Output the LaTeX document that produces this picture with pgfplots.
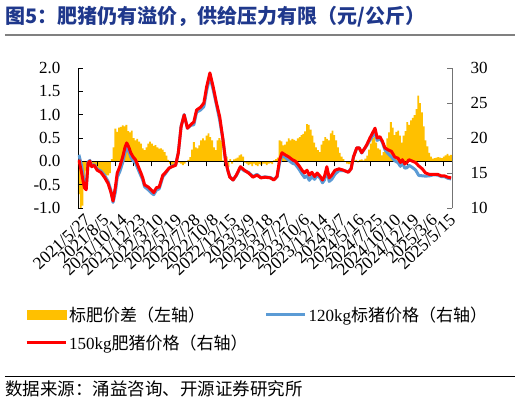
\documentclass[border=0pt]{standalone}
\usepackage{fontspec}
\setmainfont{Liberation Serif}
\newfontfamily\cjk{Noto Sans CJK SC}
\usepackage{pgfplots}
\pgfplotsset{compat=1.18}
\definecolor{barorange}{HTML}{FFC000}
\definecolor{lineblue}{HTML}{5B9BD5}
\definecolor{linered}{HTML}{FF0000}
\definecolor{titleblue}{RGB}{31,56,140}
\begin{document}
\begin{tikzpicture}
\useasboundingbox (-78pt,-194pt) rectangle (442pt,208pt);
\fill[white] (-78pt,-194pt) rectangle (442pt,208pt);
\node[anchor=west, inner sep=0pt, text=titleblue, font=\cjk\bfseries\fontsize{20}{22}\selectfont] at (-73pt,191.5pt) {图5：肥猪仍有溢价，供给压力有限（元/公斤）};
\draw[line width=1.6pt, black!50] (-73pt,173pt) -- (437pt,173pt);
\draw[line width=0.6pt, black] (-73pt,-168pt) -- (437pt,-168pt);
\node[anchor=west, inner sep=0pt, font=\cjk\fontsize{17.5}{20}\selectfont] at (-73pt,-181pt) {数据来源：涌益咨询、开源证券研究所};

\begin{axis}[
  at={(0pt,0pt)}, anchor=south west, scale only axis,
  width=374pt, height=140pt,
  xmin=-0.5, xmax=204.5, ymin=-1, ymax=2,
  axis on top,
  axis y line*=left, axis x line*=middle,
  ytick={-1,-0.5,0,0.5,1,1.5,2},
  yticklabels={-1.0,-0.5,0.0,0.5,1.0,1.5,2.0},
  xtick={0,10,20,30,40,50,60,70,80,90,100,110,120,130,140,150,160,170,180,190,200},
  xticklabels={},
  tick align=inside, major tick length=5pt,
  tick style={black, line width=0.9pt},
  axis line style={black, line width=0.9pt},
  yticklabel style={font=\fontsize{17}{17}\selectfont, xshift=-14pt},
  /pgf/number format/assume math mode=true,
  ybar, bar width=1, bar shift=0pt,
]
\addplot[fill=barorange, draw=none] coordinates {
(0,-0.7)(1,-1.0)(2,-0.95)(3,-0.4)(4,-0.2)(5,-0.15)(6,-0.12)(7,-0.08)(8,-0.1)(9,-0.12)
(10,-0.15)(11,-0.18)(12,-0.2)(13,-0.25)(14,-0.27)(15,-0.3)(16,-0.3)(17,-0.25)(18,0.05)(19,0.3)
(20,0.7)(21,0.63)(22,0.72)(23,0.74)(24,0.77)(25,0.75)(26,0.78)(27,0.65)(28,0.62)(29,0.66)
(30,0.5)(31,0.45)(32,0.48)(33,0.42)(34,0.38)(35,0.28)(36,0.24)(37,0.3)(38,0.38)(39,0.42)
(40,0.38)(41,0.33)(42,0.35)(43,0.3)(44,0.27)(45,0.28)(46,0.25)(47,0.2)(48,0.12)(49,0.03)
(50,-0.05)(51,-0.1)(52,-0.08)(53,-0.02)(54,0.02)(55,-0.03)(56,-0.05)(57,-0.08)(58,-0.05)(59,0.0)
(60,0.03)(61,0.09)(62,0.25)(63,0.41)(64,0.3)(65,0.28)(66,0.34)(67,0.45)(68,0.49)(69,0.45)
(70,0.55)(71,0.6)(72,0.52)(73,0.45)(74,0.3)(75,0.24)(76,0.45)(77,0.5)(78,0.45)(79,0.02)
(80,-0.1)(81,0.1)(82,-0.12)(83,0.05)(84,-0.05)(85,0.04)(86,0.06)(87,0.08)(88,0.13)(89,0.15)
(90,0.1)(91,-0.03)(92,-0.05)(93,-0.08)(94,-0.06)(95,-0.1)(96,-0.05)(97,-0.08)(98,-0.1)(99,-0.06)
(100,-0.08)(101,-0.05)(102,-0.05)(103,-0.08)(104,-0.05)(105,-0.04)(106,-0.06)(107,0.02)(108,0.05)(109,0.08)
(110,0.45)(111,0.43)(112,0.34)(113,0.36)(114,0.42)(115,0.49)(116,0.45)(117,0.48)(118,0.46)(119,0.44)
(120,0.49)(121,0.52)(122,0.56)(123,0.59)(124,0.64)(125,0.8)(126,0.78)(127,0.68)(128,0.55)(129,0.4)
(130,0.3)(131,0.24)(132,0.2)(133,0.36)(134,0.44)(135,0.52)(136,0.48)(137,0.45)(138,0.6)(139,0.66)
(140,0.56)(141,0.45)(142,0.3)(143,0.18)(144,0.1)(145,0.05)(146,0.0)(147,-0.05)(148,-0.06)(149,-0.05)
(150,-0.04)(151,0.02)(152,0.03)(153,-0.02)(154,0.03)(155,0.04)(156,0.02)(157,0.06)(158,0.12)(159,0.25)
(160,0.38)(161,0.5)(162,0.52)(163,0.4)(164,0.28)(165,0.25)(166,0.13)(167,0.2)(168,0.3)(169,0.49)
(170,0.62)(171,0.84)(172,0.72)(173,0.56)(174,0.63)(175,0.66)(176,0.55)(177,0.4)(178,0.55)(179,0.65)
(180,0.84)(181,0.78)(182,0.88)(183,0.93)(184,0.99)(185,1.12)(186,1.41)(187,1.25)(188,1.05)(189,0.75)
(190,0.45)(191,0.32)(192,0.18)(193,0.1)(194,0.06)(195,0.07)(196,0.08)(197,0.09)(198,0.08)(199,0.07)
(200,0.1)(201,0.13)(202,0.16)(203,0.12)(204,0.14)
};
\end{axis}

\begin{axis}[
  at={(0pt,0pt)}, anchor=south west, scale only axis,
  width=374pt, height=140pt,
  xmin=-0.5, xmax=204.5, ymin=10, ymax=30,
  axis y line*=right, axis x line*=bottom,
  x axis line style={draw=none},
  y axis line style={black!55, line width=0.9pt},
  xtick={0,10,20,30,40,50,60,70,80,90,100,110,120,130,140,150,160,170,180,190,200},
  xticklabels={2021/5/27,2021/8/5,2021/10/14,2021/12/23,2022/3/10,2022/5/19,2022/7/28,2022/10/8,2022/12/15,2023/3/9,2023/5/18,2023/7/27,2023/10/6,2023/12/14,2024/3/7,2024/5/16,2024/7/25,2024/10/10,2024/12/19,2025/3/6,2025/5/15},
  xtick style={draw=none},
  ytick={10,15,20,25,30},
  ytick style={black!55, line width=0.9pt},
  tick align=inside, major tick length=5pt,
  xticklabel style={font=\fontsize{17.5}{17.5}\selectfont, rotate=43, anchor=east, inner sep=1pt, yshift=-13pt, xshift=1pt},
  yticklabel style={font=\fontsize{17}{17}\selectfont, xshift=15pt},
  /pgf/number format/assume math mode=true,
  legend columns=2,
  legend cell align=left,
  legend style={at={(axis description cs:-0.1417,-0.69)}, anchor=north west, draw=none, fill=none, inner sep=0pt,
    font=\fontsize{17}{20}\selectfont, row sep=8pt,
    /tikz/every even column/.append style={column sep=15pt}},
  legend image code/.code={\draw[#1] (0pt,0pt) -- (39pt,0pt);},
]
\addlegendimage{legend image code/.code={\fill[barorange] (0pt,-4.5pt) rectangle (39pt,4.5pt);}}
\addlegendentry{{\cjk 标肥价差（左轴）}}
\addplot[lineblue, line width=3pt, line join=round] coordinates {
(0,17.6)(1.5,16.0)(3,13.3)(4,12.8)(5,16.55)(6,16.8)(7,16.0)(8.4,16.2)(10,15.55)(12,15.3)(14,14.7)(16,13.8)(17.5,12.55)(18.7,10.8)(20,12.3)(21,14.4)(22.4,15.2)(24,16.5)(25.3,17.95)(26.2,18.5)(27.5,18.0)(28.4,17.3)(29.7,16.75)(31,16.45)(32.6,15.45)(34,14.6)(35,14.0)(36,13.05)(38,12.6)(40,12.1)(41,11.9)(42.5,12.55)(44,12.75)(46,14.45)(47.5,14.95)(49.4,15.65)(51,16.0)(53,16.1)(54.5,17.9)(56,21.65)(57.7,23.35)(59.5,21.4)(61.3,21.8)(63,21.9)(64.5,23.7)(66.7,24.0)(68.5,24.5)(70,26.75)(71.8,28.75)(73.6,26.9)(75.4,24.75)(77.2,22.5)(79,19.7)(80.3,17.0)(81.6,15.4)(82.7,14.5)(84.5,14.0)(86.3,14.65)(88.5,15.75)(90.7,15.3)(93,15.1)(95.4,14.5)(97.6,14.8)(99.8,14.35)(102,14.45)(105,14.35)(106.8,14.05)(108.6,14.45)(110,16.45)(111.3,17.5)(113,17.25)(115,16.8)(117,16.4)(118.6,16.25)(120.5,15.6)(122.3,14.85)(123.7,14.35)(125,14.6)(126.3,13.95)(127.7,14.5)(129.2,14.1)(130.6,14.7)(132.3,14.25)(133.5,13.6)(134.6,14.0)(135.9,15.4)(137.2,13.8)(138.6,14.1)(140.4,14.85)(142.6,15.35)(145,15.35)(147.7,15.15)(149.2,15.65)(150.5,17.3)(152.3,18.55)(153.6,18.6)(155,17.85)(156.8,18.55)(157.7,18.9)(159.5,19.7)(161.3,20.4)(162.3,20.9)(163.5,19.65)(165,19.95)(166.4,19.35)(167.7,18.35)(169.5,17.75)(171.3,17.3)(173.1,16.75)(175,16.45)(176.2,15.95)(177.3,16.5)(178.6,15.7)(179.8,15.75)(180.9,16.1)(182.7,15.8)(184.5,15.45)(186.3,14.65)(188.2,14.6)(190,14.55)(192.2,14.6)(194.4,14.75)(196.7,14.7)(198.5,14.5)(200.3,14.5)(202.2,14.25)(204,14.15)
};
\addlegendentry{120kg{\cjk 标猪价格（右轴）}}
\addplot[linered, line width=3pt, line join=round] coordinates {
(0,16.9)(1.5,15.0)(3,12.9)(4,12.6)(5,16.4)(6,16.7)(7,15.9)(8.4,16.1)(10,15.4)(12,15.1)(14,14.4)(16,13.5)(17.5,12.3)(18.7,11.0)(20,13.0)(21,15.0)(22.4,15.9)(24,17.3)(25.3,18.7)(26.2,19.3)(27.5,18.6)(28.4,17.9)(29.7,17.3)(31,16.9)(32.6,15.9)(34,15.0)(35,14.3)(36,13.3)(38,13.0)(40,12.5)(41,12.2)(42.5,12.9)(44,13.0)(46,14.7)(47.5,15.1)(49.4,15.7)(51,15.9)(53,16.1)(54.5,17.9)(56,21.6)(57.7,23.3)(59.5,21.4)(61.3,21.9)(63,22.3)(64.5,24.0)(66.7,24.4)(68.5,25.0)(70,27.3)(71.8,29.3)(73.6,27.3)(75.4,25.0)(77.2,23.0)(79,19.7)(80.3,16.9)(81.6,15.4)(82.7,14.4)(84.5,14.0)(86.3,14.7)(88.5,15.9)(90.7,15.4)(93,15.0)(95.4,14.4)(97.6,14.7)(99.8,14.3)(102,14.4)(105,14.3)(106.8,14.0)(108.6,14.5)(110,16.9)(111.3,17.9)(113,17.6)(115,17.3)(117,16.9)(118.6,16.7)(120.5,16.1)(122.3,15.4)(123.7,15.0)(125,15.4)(126.3,14.7)(127.7,15.1)(129.2,14.5)(130.6,15.0)(132.3,14.5)(133.5,14.0)(134.6,14.5)(135.9,15.9)(137.2,14.3)(138.6,14.7)(140.4,15.4)(142.6,15.6)(145,15.4)(147.7,15.1)(149.2,15.6)(150.5,17.3)(152.3,18.6)(153.6,18.6)(155,17.9)(156.8,18.6)(157.7,19.0)(159.5,20.0)(161.3,20.9)(162.3,21.4)(163.5,20.0)(165,20.2)(166.4,19.5)(167.7,18.6)(169.5,18.3)(171.3,18.1)(173.1,17.3)(175,17.1)(176.2,16.5)(177.3,16.9)(178.6,16.3)(179.8,16.5)(180.9,16.9)(182.7,16.7)(184.5,16.5)(186.3,16.0)(188.2,15.6)(190,15.0)(192.2,14.8)(194.4,14.8)(196.7,14.8)(198.5,14.6)(200.3,14.6)(202.2,14.4)(204,14.3)
};
\addlegendentry{150kg{\cjk 肥猪价格（右轴）}}
\end{axis}
\end{tikzpicture}
\end{document}
